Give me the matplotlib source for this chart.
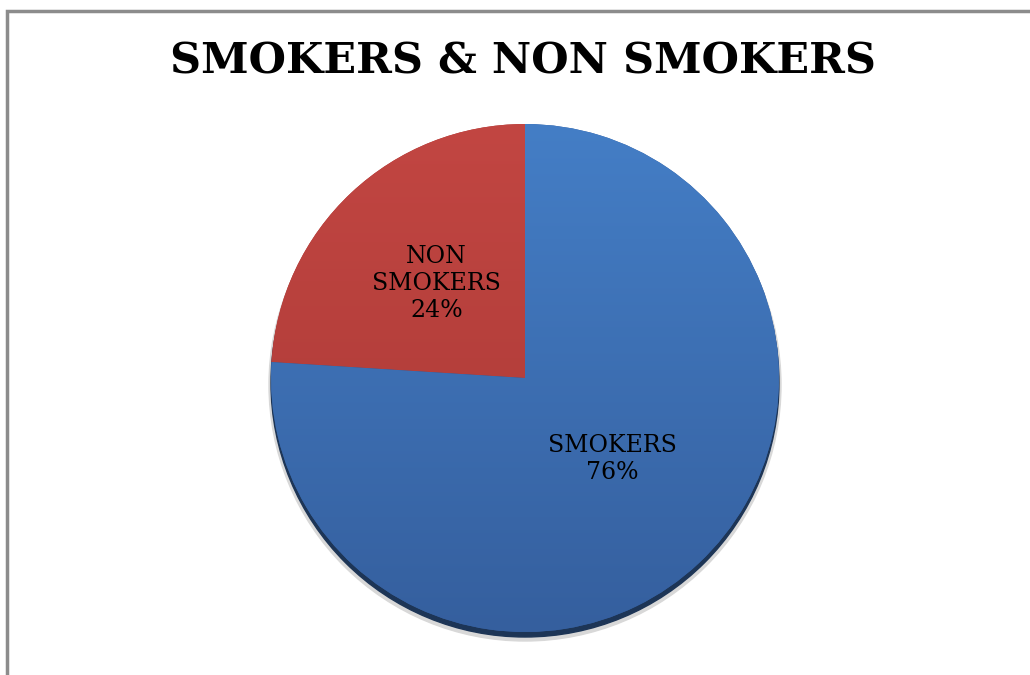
import matplotlib.pyplot as plt
import numpy as np
from matplotlib.patches import Circle, Rectangle
from matplotlib.colors import LinearSegmentedColormap

# chart data
labels = ['NON\nSMOKERS', 'SMOKERS']
values = [24, 76]
top_colors = ['#c24642', '#447ec6']
bottom_colors = ['#a83835', '#355f9e']

W, H = 1030, 675
fig = plt.figure(figsize=(W / 100, H / 100), dpi=100)
ax = fig.add_axes([0, 0, 1, 1])

# frame round the chart (only top and left visible in the crop)
ax.add_patch(Rectangle((7, -20), W + 20, H - 11 + 20, fill=False,
                       edgecolor='#8c8c8c', linewidth=2.5))

cx, cy, r = 525, 297, 254

# soft shadow and dark rim under the pie
ax.add_patch(Circle((cx, cy - 7), r + 2, color='#d8d8d8', zorder=1))
ax.add_patch(Circle((cx, cy - 5), r, color='#1d3556', zorder=2))

wedges, _ = ax.pie(values, startangle=90, counterclock=True,
                   center=(cx, cy), radius=r, frame=True,
                   wedgeprops=dict(linewidth=0, zorder=3))
ax.set_xlim(0, W)
ax.set_ylim(0, H)
ax.axis('off')

# vertical gradient fill clipped to each wedge
grad = np.linspace(1, 0, 256).reshape(-1, 1)
for w, c0, c1 in zip(wedges, top_colors, bottom_colors):
    w.set_facecolor(c1)
    cmap = LinearSegmentedColormap.from_list('g', [c1, c0])
    im = ax.imshow(grad, cmap=cmap, extent=(cx - r, cx + r, cy - r, cy + r),
                   aspect='auto', zorder=4, origin='upper')
    im.set_clip_path(w)

# labels inside the slices
total = sum(values)
dists = [0.51, 0.47]
for w, lab, v, d in zip(wedges, labels, values, dists):
    ang = np.deg2rad((w.theta1 + w.theta2) / 2 + (4 if v > 50 else 0))
    ax.text(cx + d * r * np.cos(ang), cy + d * r * np.sin(ang),
            f'{lab}\n{round(100 * v / total)}%',
            ha='center', va='center', fontsize=17, family='DejaVu Serif',
            linespacing=1.2, zorder=6)

ax.text(W / 2 + 8, H - 61, 'SMOKERS & NON SMOKERS', ha='center', va='center',
        fontsize=31, fontweight='bold', family='DejaVu Serif')

fig.savefig('out.png', dpi=100)
